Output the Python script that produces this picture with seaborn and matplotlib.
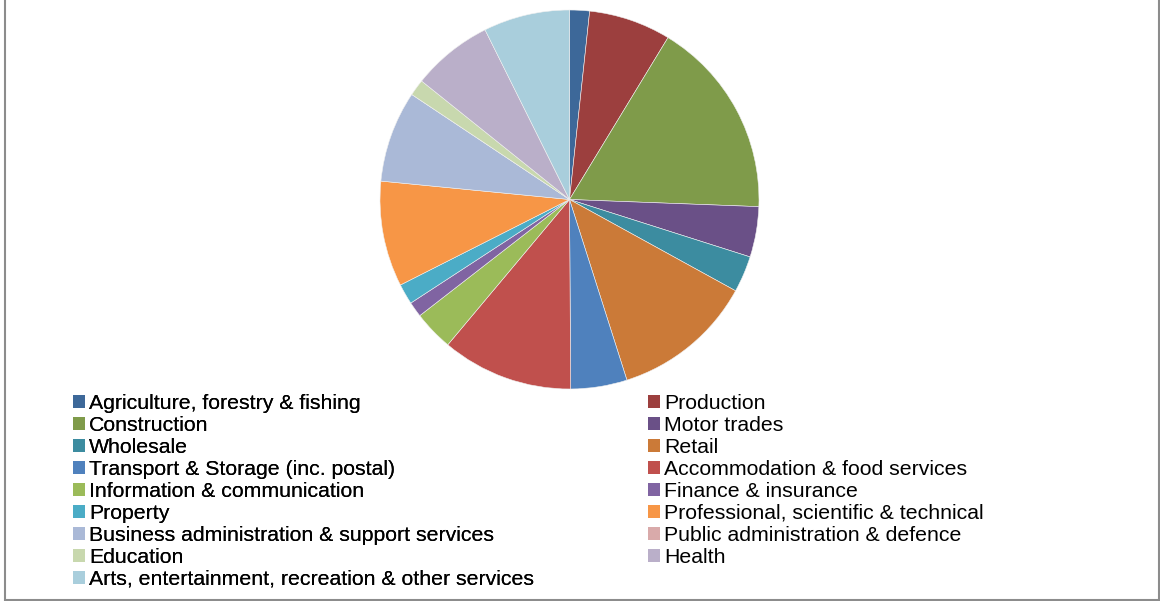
import matplotlib
matplotlib.use("Agg")
import matplotlib.pyplot as plt
from matplotlib.lines import Line2D
from matplotlib.patches import Patch
import seaborn as sns

sns.set_theme(style="white")
plt.rcParams['font.family'] = ['Liberation Sans', 'DejaVu Sans']

categories = [
    "Agriculture, forestry & fishing", "Production", "Construction", "Motor trades",
    "Wholesale", "Retail", "Transport & Storage (inc. postal)",
    "Accommodation & food services", "Information & communication",
    "Finance & insurance", "Property", "Professional, scientific & technical",
    "Business administration & support services", "Public administration & defence",
    "Education", "Health", "Arts, entertainment, recreation & other services",
]
values = [1.7, 7.0, 16.9, 4.3, 3.1, 12.1, 4.8, 11.2, 3.4, 1.3, 1.75, 9.0, 7.8, 0.0, 1.4, 6.9, 7.35]
colors = ["#3D6899", "#9C3F3E", "#7F9B4A", "#6A5087", "#3C8CA0", "#CB7A38",
          "#4F81BD", "#C0504D", "#9BBB59", "#8064A2", "#4BACC6", "#F79646",
          "#AAB9D7", "#D9AAAA", "#C8D8AE", "#BAAFC9", "#A9CEDC"]

W, H = 1160, 601
fig = plt.figure(figsize=(W / 100, H / 100), dpi=100)
fig.patch.set_facecolor("white")

cx, cy, r = 569.5, 199.5, 189.5
ax = fig.add_axes([(cx - r) / W, (H - cy - r) / H, 2 * r / W, 2 * r / H])
ax.pie(values, colors=colors, startangle=90, counterclock=False,
       wedgeprops=dict(edgecolor="#f0f0f0", linewidth=0.4))
ax.set_xlim(-1, 1)
ax.set_ylim(-1, 1)
ax.set_aspect("equal")
ax.axis("off")

handles = [Patch(facecolor=c, edgecolor="none") for c in colors]
left_idx = list(range(0, len(categories), 2))
right_idx = list(range(1, len(categories), 2))

def make_legend(idx, x_px):
    leg = fig.legend([handles[i] for i in idx], [categories[i] for i in idx],
                     loc="upper left", bbox_to_anchor=(x_px / W, 1 - 394 / H),
                     frameon=False, fontsize=15.3, handlelength=0.55, handleheight=0.55,
                     handletextpad=0.22, labelspacing=0.14, borderaxespad=0, borderpad=0)
    for t in leg.get_texts():
        t.set_color("black")
    return leg

leg1 = make_legend(left_idx, 73)
fig.add_artist(leg1)
leg2 = make_legend(right_idx, 648)

gray = "#8c8c8c"
fig.add_artist(Line2D([4.5 / W, 4.5 / W], [0.5 / H, 1], color=gray, lw=1.5))
fig.add_artist(Line2D([1158.5 / W, 1158.5 / W], [0.5 / H, 1], color=gray, lw=1.5))
fig.add_artist(Line2D([4.5 / W, 1158.5 / W], [1.5 / H, 1.5 / H], color=gray, lw=1.5))

fig.savefig("out.png", dpi=100, facecolor="white")
